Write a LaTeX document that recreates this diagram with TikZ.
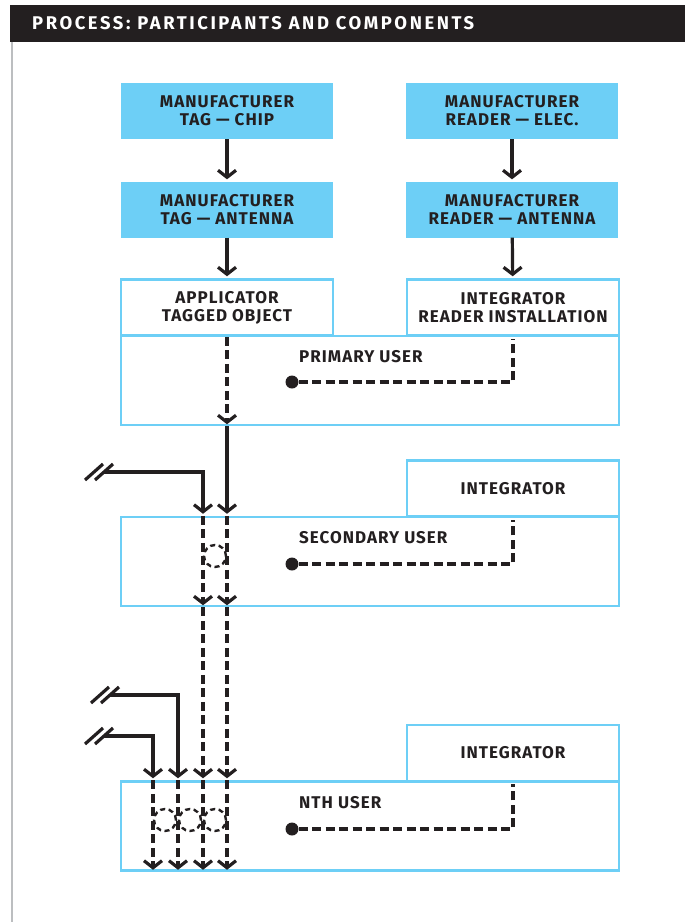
\documentclass[tikz,border=0pt]{standalone}
\usepackage{fontspec}
\setmainfont{Fira Sans}[LetterSpace=6]
\newfontfamily\headfont{Fira Sans}[LetterSpace=14]
\usetikzlibrary{arrows.meta,positioning}
\definecolor{rfidblue}{HTML}{6DCFF6}
\definecolor{inkblack}{HTML}{231F20}
\definecolor{rulegrey}{HTML}{BCBEC0}

\begin{document}
\begin{tikzpicture}[x=1pt,y=-1pt,
	>={Straight Barb[length=7pt,width=18pt]},
	maker/.style={fill=rfidblue,minimum width=212pt,minimum height=56pt},
	party/.style={draw=rfidblue,line width=2.5pt,fill=white,minimum width=212pt,minimum height=56pt},
	user/.style={draw=rfidblue,line width=2.5pt,minimum width=498pt,minimum height=89pt},
	flow/.style={draw=inkblack,line width=3.2pt,->,shorten >=2pt},
	dflow/.style={flow,dash pattern=on 9pt off 4.5pt},
	tapdot/.style={circle,fill=inkblack,minimum size=13pt},
	mix/.style={circle,draw=inkblack,line width=2.4pt,dash pattern=on 5pt off 3.5pt,minimum size=22pt},
	slash/.style={draw=inkblack,line width=3.2pt}]
	\tikzstyle{every node}=[font=\bfseries\fontsize{17}{18}\selectfont,text=inkblack,align=center,inner sep=0pt]
	\useasboundingbox (0,0) rectangle (685,922);
	
	\fill[inkblack] (10,5) rectangle (685,42);
	\node[anchor=west,text=white,font=\headfont\bfseries\fontsize{18.4}{20}\selectfont] (title) at (32,23.5) {PROCESS: PARTICIPANTS AND COMPONENTS};
	\draw[rulegrey,line width=2.5pt] (12,42) -- (12,922);
	
	\node[maker] (chip) at (227,111) {MANUFACTURER\\TAG — CHIP};
	\node[maker] (elec) at (512,111) {MANUFACTURER\\READER — ELEC.};
	\node[maker] (tagant) at (227,209.5) {MANUFACTURER\\TAG — ANTENNA};
	\node[maker] (readant) at (512,209.5) {MANUFACTURER\\READER — ANTENNA};
	
	\node[user] (primary) at (370,380.5) {};
	\node[party] (applicator) at (227,307.5) {APPLICATOR\\TAGGED OBJECT};
	\node[party] (instal) at (513,307.5) {INTEGRATOR\\READER INSTALLATION};
	\node[anchor=west] (plabel) at (299,357) {PRIMARY USER};
	\node[tapdot] (pdot) at (292,382) {};
	
	\node[user] (secondary) at (370,561.5) {};
	\node[party] (integ2) at (513,488.5) {INTEGRATOR};
	\node[anchor=west] (slabel) at (299,538) {SECONDARY USER};
	\node[tapdot] (sdot) at (292,564) {};
	
	\node[user] (nth) at (370,826) {};
	\node[party] (integ3) at (513,753) {INTEGRATOR};
	\node[anchor=west] (nlabel) at (299,803) {NTH USER};
	\node[tapdot] (ndot) at (292,829) {};
	
	\coordinate (colA) at (227,0);
	\coordinate (colB) at (203,0);
	\coordinate (colC) at (178,0);
	\coordinate (colD) at (153,0);
	\coordinate (brkB) at (104,472);
	\coordinate (brkC) at (110,695);
	\coordinate (brkD) at (104,736);
	
	\draw[flow] (chip) -- (tagant);
	\draw[flow] (tagant) -- (applicator);
	\draw[flow] (elec) -- (readant);
	\draw[flow] (readant) -- (instal);
	
	\draw[dflow,-] (pdot) -| (instal);
	\draw[dflow,-] (sdot) -| (integ2);
	\draw[dflow,-] (ndot) -| (integ3);
	
	\draw[dflow] (applicator.south) -- (colA |- primary.south);
	\draw[flow] (colA |- primary.south) -- (colA |- secondary.north);
	\draw[flow] (brkB) -| (colB |- secondary.north);
	\draw[flow] (brkC) -| (colC |- nth.north);
	\draw[flow] (brkD) -| (colD |- nth.north);
	\foreach \c in {A,B}{
		\draw[dflow] (col\c |- secondary.north) -- (col\c |- secondary.south);
		\draw[dflow] (col\c |- secondary.south) -- (col\c |- nth.north);
	}
	\foreach \c in {A,B,C,D}
		\draw[dflow] (col\c |- nth.north) -- (col\c |- nth.south);
	
	\foreach \b in {brkB,brkC,brkD}{
		\draw[slash] ([shift={(-9,8)}]\b) -- ([shift={(9,-8)}]\b);
		\draw[slash] ([shift={(-19,8)}]\b) -- ([shift={(-1,-8)}]\b);
	}
	
	\node[mix] (mix1) at (215,556) {};
	\node[mix] (mix2) at (165,820) {};
	\node[mix] (mix3) at (190,820) {};
	\node[mix] (mix4) at (215,820) {};
\end{tikzpicture}
\end{document}
